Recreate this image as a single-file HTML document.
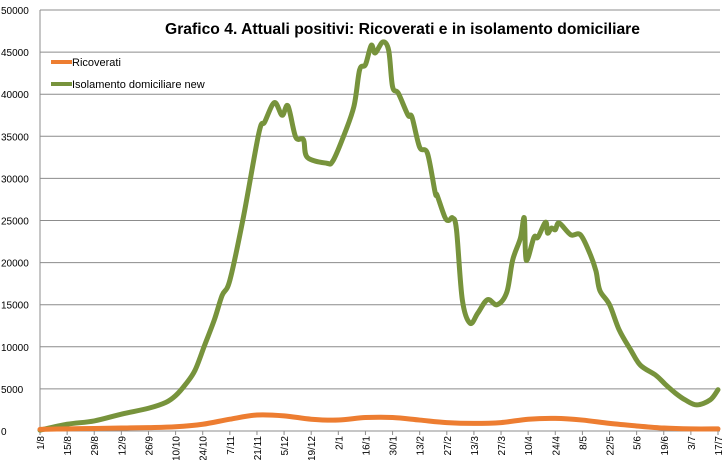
<!DOCTYPE html>
<html><head><meta charset="utf-8">
<style>
html,body{margin:0;padding:0;background:#fff;}
svg{display:block;font-family:"Liberation Sans",sans-serif;}
</style></head>
<body>
<svg id="chart" width="723" height="460" viewBox="0 0 723 460" xmlns="http://www.w3.org/2000/svg">
<rect x="0" y="0" width="723" height="460" fill="#fff"/>
<g id="grid"></g>
<g id="yticks"></g>
<g id="xticks"></g>
<g id="series"></g>
<text x="165" y="34" font-size="16" font-weight="bold" fill="#000" textLength="475" lengthAdjust="spacingAndGlyphs">Grafico 4. Attuali positivi: Ricoverati e in isolamento domiciliare</text>
<g>
<g>
<line x1="51" y1="62" x2="72" y2="62" stroke="#ED7D31" stroke-width="4"/>
<text x="72" y="66" font-size="11" fill="#000">Ricoverati</text></g>
<g>
<line x1="51" y1="84" x2="72" y2="84" stroke="#77933C" stroke-width="4"/>
<text x="72" y="88" font-size="11" fill="#000">Isolamento domiciliare new</text></g>
</g>
</svg>
<script>
const yTicks=[0,5000,10000,15000,20000,25000,30000,35000,40000,45000,50000];
const xLabels=["1/8","15/8","29/8","12/9","26/9","10/10","24/10","7/11","21/11","5/12","19/12","2/1","16/1","30/1","13/2","27/2","13/3","27/3","10/4","24/4","8/5","22/5","5/6","19/6","3/7","17/7"];
const greenDays=[0,14,28,42,56,65,70,75,80,85,90,94,98,105,113,116,121,125,128,132,136,138,148,151,156,162,165,168,171,173,177,180,182,185,190,192,196,200,204,205,209,211,213,215,218,222,226,231,236,241,244,248,250,251,255,257,261,262,264,266,268,274,279,284,287,289,294,299,305,310,318,323,328,333,339,346,350];
const greenVals=[100,800,1200,2000,2700,3400,4200,5500,7200,10200,13200,16100,17900,25400,35400,36700,39000,37500,38600,34900,34600,32500,31800,32000,34600,38500,42900,43500,45800,44900,46200,45200,40900,40100,37500,37300,33700,33000,28300,28000,25400,25000,25300,23900,15600,12800,14000,15600,15000,16500,20300,22900,25300,20300,23000,23000,24800,23500,24100,23900,24700,23300,23300,21000,19000,16700,15000,12000,9600,7800,6600,5500,4500,3700,3100,3700,4900];
const redDays=[0,14,28,42,56,70,84,98,112,126,140,154,168,182,196,210,224,238,252,266,280,294,308,322,336,350];
const redVals=[200,250,300,350,400,500,800,1400,1900,1800,1400,1300,1600,1600,1300,1000,900,1000,1400,1500,1300,900,600,350,250,250];

const X0=40,X1=718,Y0=431,Y1=10,DMAX=350,VMAX=50000;
const xs=d=>X0+(X1-X0)*d/DMAX;
const ys=v=>Y0-(Y0-Y1)*v/VMAX;
const NS="http://www.w3.org/2000/svg";
function mk(tag,attrs,parent){const e=document.createElementNS(NS,tag);for(const k in attrs)e.setAttribute(k,attrs[k]);parent.appendChild(e);return e;}
const grid=document.getElementById('grid'),yt=document.getElementById('yticks'),xt=document.getElementById('xticks'),ser=document.getElementById('series');
yTicks.forEach(v=>{
  const l=mk('line',{x1:X0,x2:720,y1:ys(v),y2:ys(v),stroke:'#8c8c8c','stroke-width':1},grid);
  
  
  const t=mk('text',{x:1,y:ys(v)+4,'font-size':10,fill:'#000'},yt);
  t.textContent=v;
  
  
});
const ax=mk('line',{x1:X0,x2:X0,y1:Y1,y2:Y0,stroke:'#8c8c8c','stroke-width':1},yt);


xLabels.forEach((s,i)=>{
  const x=xs(i*14);
  const tk=mk('line',{x1:x,x2:x,y1:Y0,y2:Y0+4,stroke:'#8c8c8c'},xt);
  
  
  const t=mk('text',{x:0,y:0,'font-size':10,fill:'#000','text-anchor':'end',transform:`translate(${x+4},${Y0+5}) rotate(-90)`},xt);
  t.textContent=s;
  
  
});
function pathD(days,vals){
  const p=days.map((d,i)=>[xs(d),ys(vals[i])]);
  let d=`M${p[0][0]},${p[0][1]}`;
  for(let i=0;i<p.length-1;i++){
    const a=p[Math.max(0,i-1)],b=p[i],c=p[i+1],e=p[Math.min(p.length-1,i+2)];
    const c1=[b[0]+(c[0]-a[0])/6,b[1]+(c[1]-a[1])/6],c2=[c[0]-(e[0]-b[0])/6,c[1]-(e[1]-b[1])/6];
    d+=` C${c1[0]},${c1[1]} ${c2[0]},${c2[1]} ${c[0]},${c[1]}`;
  }
  return d;
}
const g=mk('path',{d:pathD(greenDays,greenVals),fill:'none',stroke:'#77933C','stroke-width':5,'stroke-linejoin':'round','stroke-linecap':'round'},ser);


const r=mk('path',{d:pathD(redDays,redVals),fill:'none',stroke:'#ED7D31','stroke-width':5,'stroke-linejoin':'round','stroke-linecap':'round'},ser);


</script>
</body></html>
